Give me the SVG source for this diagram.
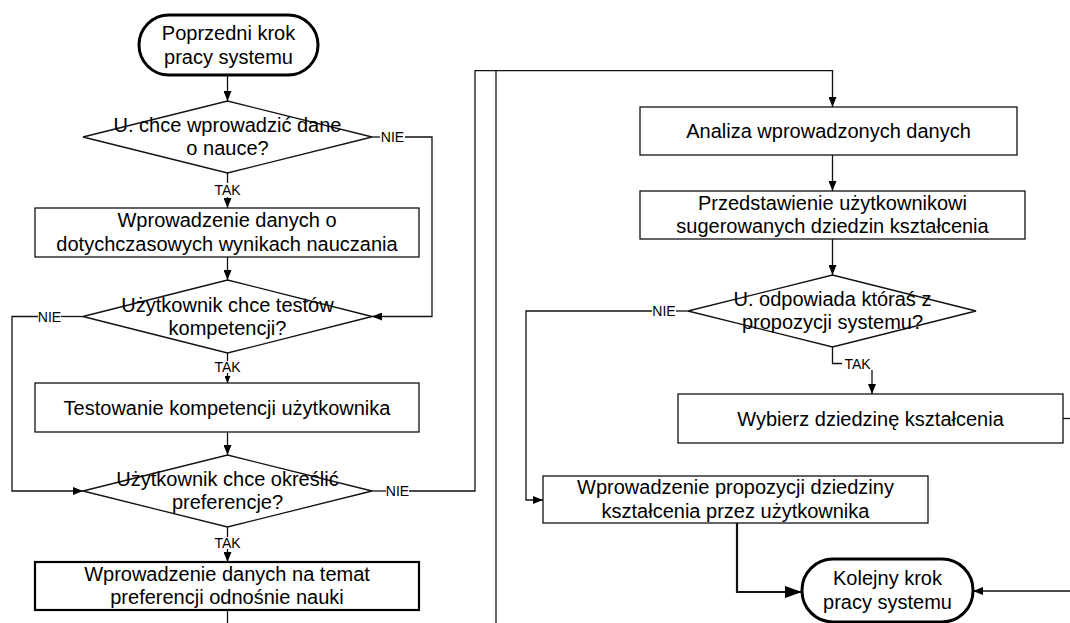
<svg xmlns="http://www.w3.org/2000/svg" width="1070" height="623" viewBox="0 0 1070 623">
  <style>
    .node { fill: #fff; stroke: #111; stroke-width: 1.3; }
    .term { fill: #fff; stroke: #000; stroke-width: 3; }
    .bold { fill: #fff; stroke: #000; stroke-width: 2.2; }
    .txt { font-family: 'Liberation Sans', Arial, sans-serif; font-size: 20px; fill: #000; text-anchor: middle; }
    .lbl { font-family: 'Liberation Sans', Arial, sans-serif; font-size: 14px; fill: #000; text-anchor: middle; }
    .conn path { fill: none; stroke: #111; stroke-width: 1.3; }
    .conn path.thick { stroke-width: 2.2; }
  </style>
  <defs>
    <marker id="arrow" markerUnits="userSpaceOnUse" viewBox="0 0 10 8" refX="10" refY="4" markerWidth="10" markerHeight="8" orient="auto">
      <path d="M0 0 L10 4 L0 8 Z" fill="#000"/>
    </marker>
    <marker id="arrowSmall" markerUnits="userSpaceOnUse" viewBox="0 0 7 6" refX="7" refY="3" markerWidth="7" markerHeight="6" orient="auto">
      <path d="M0 0 L7 3 L0 6 Z" fill="#000"/>
    </marker>
    <marker id="arrowLarge" markerUnits="userSpaceOnUse" viewBox="0 0 17 12" refX="17" refY="6" markerWidth="17" markerHeight="12" orient="auto">
      <path d="M0 0 L17 6 L0 12 Z" fill="#000"/>
    </marker>
  </defs>

  <rect width="1070" height="623" fill="#fff"/>

  <!-- connectors -->
  <g id="connectors" class="conn">
    <path d="M227.5 75 V101" marker-end="url(#arrow)"/>
    <path d="M227.5 173 V183"/>
    <path d="M227.5 197 V208" marker-end="url(#arrow)"/>
    <path d="M372 137 H380"/>
    <path d="M405 137 H432 V316.5 H372" marker-end="url(#arrow)"/>
    <path d="M227.5 257 V280" marker-end="url(#arrow)"/>
    <path d="M83 316.5 H61"/>
    <path d="M38 316.5 H12 V491 H83" marker-end="url(#arrow)"/>
    <path d="M227.5 353 V361"/>
    <path d="M227.5 373 V383" marker-end="url(#arrowSmall)"/>
    <path d="M227.5 432 V455" marker-end="url(#arrow)"/>
    <path d="M372 491 H386"/>
    <path d="M409 491 H475 V70.7 H832.5 V107" marker-end="url(#arrow)"/>
    <path d="M227.5 527 V537"/>
    <path d="M227.5 549 V562" marker-end="url(#arrow)"/>
    <path d="M227.5 610 V623"/>
    <path d="M496 70.7 V623"/>
    <path d="M832.5 155 V191" marker-end="url(#arrow)"/>
    <path d="M832.5 239 V275" marker-end="url(#arrow)"/>
    <path d="M688 311 H676"/>
    <path d="M652 311 H526 V500 H543" marker-end="url(#arrow)"/>
    <path d="M832.5 347 V363.5 H842"/>
    <path d="M872 370 V394" marker-end="url(#arrow)"/>
    <path d="M1063 418.5 H1070"/>
    <path class="thick" d="M737 523 V592 H802" marker-end="url(#arrowLarge)"/>
    <path d="M1070 591 H973" marker-end="url(#arrow)"/>
  </g>

  <!-- branch labels -->
  <g id="labels">
    <text class="lbl" x="227.5" y="195">TAK</text>
    <text class="lbl" x="392.5" y="142">NIE</text>
    <text class="lbl" x="49.5" y="321.5">NIE</text>
    <text class="lbl" x="227.5" y="372">TAK</text>
    <text class="lbl" x="397.5" y="496">NIE</text>
    <text class="lbl" x="227.5" y="548">TAK</text>
    <text class="lbl" x="664" y="316">NIE</text>
    <text class="lbl" x="857.5" y="368.5">TAK</text>
  </g>

  <g id="start">
    <rect class="term" x="139" y="15" width="179" height="60" rx="30" ry="30"/>
    <text class="txt" x="228.5" y="39.5">Poprzedni krok</text>
    <text class="txt" x="228.5" y="63.5">pracy systemu</text>
  </g>

  <g id="decision-dane">
    <polygon class="node" points="83,137 227.5,101 372,137 227.5,173"/>
    <text class="txt" x="227.5" y="132">U. chce wprowadzić dane</text>
    <text class="txt" x="227.5" y="155">o nauce?</text>
  </g>

  <g id="wyniki">
    <rect class="node" x="35" y="208" width="384" height="49"/>
    <text class="txt" x="227" y="227">Wprowadzenie danych o</text>
    <text class="txt" x="227" y="250.5">dotychczasowych wynikach nauczania</text>
  </g>

  <g id="decision-testy">
    <polygon class="node" points="83,316.5 227.5,280 372,316.5 227.5,353"/>
    <text class="txt" x="227.5" y="311.5">Użytkownik chce testów</text>
    <text class="txt" x="227.5" y="334.5">kompetencji?</text>
  </g>

  <g id="testowanie">
    <rect class="node" x="35" y="383" width="384" height="49"/>
    <text class="txt" x="227" y="414.5">Testowanie kompetencji użytkownika</text>
  </g>

  <g id="decision-preferencje">
    <polygon class="node" points="83,491 227.5,455 372,491 227.5,527"/>
    <text class="txt" x="227.5" y="485.5">Użytkownik chce określić</text>
    <text class="txt" x="227.5" y="508.5">preferencje?</text>
  </g>

  <g id="preferencje">
    <rect class="bold" x="35" y="562" width="384" height="48"/>
    <text class="txt" x="227" y="580.5">Wprowadzenie danych na temat</text>
    <text class="txt" x="227" y="604">preferencji odnośnie nauki</text>
  </g>

  <g id="analiza">
    <rect class="node" x="640" y="107" width="377" height="48"/>
    <text class="txt" x="828.5" y="138">Analiza wprowadzonych danych</text>
  </g>

  <g id="przedstawienie">
    <rect class="node" x="640" y="191" width="385" height="48"/>
    <text class="txt" x="832.5" y="209.5">Przedstawienie użytkownikowi</text>
    <text class="txt" x="832.5" y="233">sugerowanych dziedzin kształcenia</text>
  </g>

  <g id="decision-propozycje">
    <polygon class="node" points="688,311 832.5,275 976,311 832.5,347"/>
    <text class="txt" x="832.5" y="305.5">U. odpowiada któraś z</text>
    <text class="txt" x="832.5" y="329">propozycji systemu?</text>
  </g>

  <g id="wybierz">
    <rect class="node" x="678" y="394" width="385" height="49"/>
    <text class="txt" x="870.5" y="425.5">Wybierz dziedzinę kształcenia</text>
  </g>

  <g id="propozycja-uzytkownika">
    <rect class="node" x="543" y="476" width="385" height="47"/>
    <text class="txt" x="735.5" y="494">Wprowadzenie propozycji dziedziny</text>
    <text class="txt" x="735.5" y="517.5">kształcenia przez użytkownika</text>
  </g>

  <g id="end">
    <rect class="term" x="802" y="559" width="171" height="63" rx="31" ry="31"/>
    <text class="txt" x="887.5" y="585">Kolejny krok</text>
    <text class="txt" x="887.5" y="609">pracy systemu</text>
  </g>
</svg>
